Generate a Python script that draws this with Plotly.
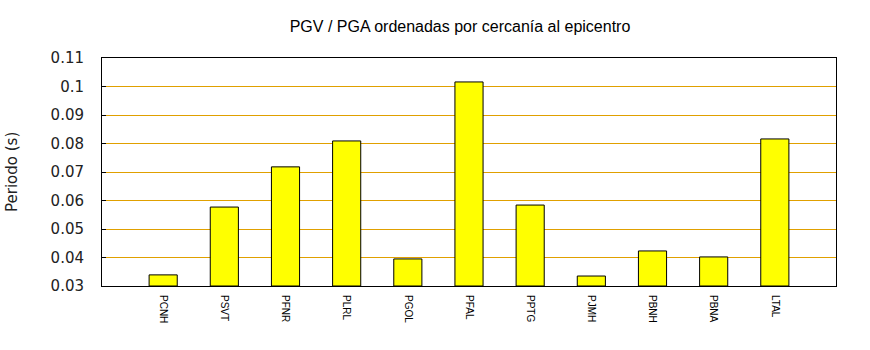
import plotly.graph_objects as go

stations = ["PCNH", "PSVT", "PFNR", "PLRL", "PGOL", "PFAL",
            "PPTG", "PJMH", "PBNH", "PBNA", "LTAL"]
periodo = [0.0339, 0.0577, 0.0718, 0.0809, 0.0395, 0.1016,
           0.0584, 0.0335, 0.0423, 0.0402, 0.0816]
y_ticks = [0.03, 0.04, 0.05, 0.06, 0.07, 0.08, 0.09, 0.1, 0.11]
y_tick_text = ["0.03", "0.04", "0.05", "0.06", "0.07", "0.08", "0.09", "0.1", "0.11"]

x_pos = list(range(len(stations)))

fig = go.Figure(go.Bar(
    x=x_pos,
    y=[v - 0.03 for v in periodo],
    base=0.03,
    width=0.46,
    marker=dict(color="#ffff00", line=dict(color="black", width=1)),
    hoverinfo="skip",
))

fig.update_layout(
    width=870, height=350,
    margin=dict(l=102, r=34, t=58, b=64),
    paper_bgcolor="white", plot_bgcolor="white",
    showlegend=False,
    title=dict(
        text="PGV / PGA ordenadas por cercanía al epicentro",
        x=460 / 870, xanchor="center", y=1 - 26 / 350, yanchor="middle",
        font=dict(family="Liberation Sans, Arial", size=16, color="black"),
    ),
    xaxis=dict(
        range=[-1, 11],
        tickmode="array", tickvals=x_pos, ticktext=stations,
        tickangle=90,
        tickfont=dict(family="Liberation Sans, Arial", size=10, color="black"),
        ticklabelstandoff=6,
        showgrid=False, zeroline=False,
        showline=True, linecolor="black", linewidth=1, mirror=True,
        ticks="", ticklen=0,
    ),
    yaxis=dict(
        range=[0.03, 0.11],
        tickmode="array", tickvals=y_ticks, ticktext=y_tick_text,
        tickfont=dict(family="DejaVu Sans", size=15, color="#222222"),
        ticklabelstandoff=14,
        showgrid=True, gridcolor="#e0a000", gridwidth=1,
        zeroline=False,
        showline=True, linecolor="black", linewidth=1, mirror=True,
        ticks="inside", ticklen=4, tickcolor="black",
    ),
    annotations=[dict(
        text="Periodo (s)", textangle=-90,
        xref="paper", yref="paper",
        x=-90 / 734, y=0.5, xanchor="center", yanchor="middle",
        showarrow=False,
        font=dict(family="DejaVu Sans", size=15, color="#222222"),
    )],
)

fig.write_html("out.html")
